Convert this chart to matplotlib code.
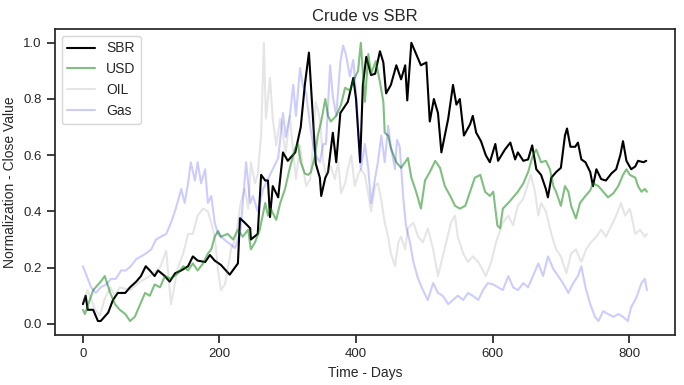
import numpy as np
import matplotlib
matplotlib.use("Agg")
import matplotlib.pyplot as plt
import seaborn as sns

# ------------------------------------------------------------
# Data (normalised close values)
# ------------------------------------------------------------

sbr_days = [0, 4, 7, 15, 22, 26, 37, 44, 51, 62, 69, 78, 85, 92, 98, 105, 110, 120, 127, 135,
            144, 154, 161, 168, 179, 186, 193, 202, 215, 227, 230, 237, 245, 246, 256, 261, 267,
            271, 274, 278, 286, 293, 300, 311, 319, 325, 331, 337, 341, 347, 349, 355, 359, 366,
            371, 377, 388, 396, 400, 406, 410, 415, 422, 428, 435, 440, 444, 451, 459, 466, 472,
            475, 481, 488, 495, 503, 508, 514, 520, 525, 530, 535, 542, 547, 552, 558, 567, 571,
            576, 583, 590, 596, 604, 608, 618, 626, 633, 637, 645, 652, 658, 664, 671, 678, 681,
            686, 693, 700, 706, 709, 714, 721, 725, 730, 736, 743, 747, 752, 759, 766, 774, 781,
            787, 791, 796, 803, 809, 813, 821, 825]
sbr_vals = [0.07, 0.10, 0.05, 0.05, 0.01, 0.01, 0.04, 0.085, 0.11, 0.11, 0.13, 0.15, 0.17, 0.205,
            0.19, 0.17, 0.19, 0.17, 0.15, 0.18, 0.19, 0.205, 0.24, 0.225, 0.22, 0.245, 0.225, 0.21,
            0.175, 0.215, 0.376, 0.36, 0.34, 0.30, 0.32, 0.53, 0.51, 0.51, 0.38, 0.49, 0.45, 0.61,
            0.58, 0.61, 0.70, 0.85, 0.965, 0.73, 0.57, 0.52, 0.455, 0.52, 0.54, 0.68, 0.575, 0.75,
            0.79, 0.875, 0.80, 0.575, 0.85, 0.95, 0.885, 0.89, 0.97, 0.93, 0.82, 0.85, 0.92, 0.87,
            0.92, 0.795, 1.0, 0.96, 0.92, 0.93, 0.72, 0.80, 0.75, 0.61, 0.67, 0.73, 0.85, 0.78,
            0.80, 0.67, 0.71, 0.74, 0.68, 0.65, 0.60, 0.575, 0.64, 0.58, 0.62, 0.645, 0.585, 0.61,
            0.58, 0.585, 0.635, 0.55, 0.53, 0.48, 0.45, 0.52, 0.54, 0.555, 0.67, 0.695, 0.63,
            0.63, 0.645, 0.585, 0.575, 0.54, 0.49, 0.55, 0.515, 0.51, 0.535, 0.55, 0.60, 0.65,
            0.58, 0.55, 0.56, 0.58, 0.575, 0.58]

usd_days = [0, 3, 15, 26, 32, 40, 47, 54, 62, 69, 76, 84, 91, 98, 105, 113, 120, 129, 139, 147,
            154, 161, 168, 176, 183, 188, 193, 198, 202, 212, 220, 227, 234, 242, 246, 252, 259,
            267, 271, 275, 283, 289, 296, 303, 311, 315, 319, 325, 330, 334, 340, 344, 349, 355,
            359, 363, 371, 378, 384, 391, 398, 403, 407, 413, 418, 422, 429, 435, 440, 442, 447,
            451, 459, 466, 476, 481, 488, 495, 501, 508, 516, 523, 530, 538, 545, 552, 560, 567,
            574, 582, 589, 596, 601, 607, 611, 615, 623, 630, 637, 645, 652, 659, 664, 671, 678,
            684, 689, 693, 700, 706, 711, 715, 722, 728, 736, 743, 747, 755, 762, 769, 777, 784,
            791, 796, 801, 809, 813, 818, 823, 826]
usd_vals = [0.05, 0.035, 0.12, 0.15, 0.17, 0.11, 0.07, 0.05, 0.035, 0.01, 0.025, 0.07, 0.11, 0.10,
            0.14, 0.13, 0.17, 0.16, 0.18, 0.205, 0.19, 0.215, 0.19, 0.215, 0.25, 0.265, 0.31, 0.33,
            0.31, 0.32, 0.30, 0.335, 0.31, 0.335, 0.265, 0.29, 0.335, 0.43, 0.385, 0.41, 0.37,
            0.43, 0.48, 0.555, 0.625, 0.64, 0.575, 0.535, 0.53, 0.54, 0.60, 0.67, 0.72, 0.80,
            0.74, 0.72, 0.74, 0.78, 0.84, 0.83, 0.875, 0.90, 1.0, 0.79, 0.96, 0.89, 0.935, 0.86,
            0.79, 0.68, 0.67, 0.625, 0.575, 0.555, 0.59, 0.52, 0.47, 0.41, 0.51, 0.54, 0.58, 0.555,
            0.49, 0.455, 0.42, 0.41, 0.42, 0.47, 0.52, 0.53, 0.47, 0.455, 0.47, 0.35, 0.34, 0.41,
            0.43, 0.45, 0.47, 0.50, 0.54, 0.60, 0.62, 0.575, 0.58, 0.55, 0.49, 0.47, 0.42, 0.49,
            0.47, 0.42, 0.375, 0.43, 0.455, 0.475, 0.50, 0.49, 0.47, 0.45, 0.465, 0.49, 0.53,
            0.55, 0.53, 0.52, 0.49, 0.47, 0.48, 0.47]

oil_days = [0, 7, 18, 25, 32, 40, 47, 54, 69, 84, 98, 113, 122, 129, 139, 147, 154, 161, 168,
            176, 183, 188, 193, 198, 202, 208, 217, 224, 231, 237, 242, 246, 252, 256, 261, 265,
            268, 274, 278, 283, 289, 293, 297, 303, 308, 312, 318, 322, 327, 333, 337, 341, 347,
            352, 356, 363, 369, 374, 378, 384, 388, 393, 398, 403, 407, 413, 418, 422, 428, 432,
            437, 442, 447, 451, 457, 462, 466, 472, 476, 484, 491, 498, 505, 513, 520, 525, 532,
            539, 545, 549, 557, 564, 571, 579, 586, 590, 598, 605, 612, 615, 623, 630, 637, 645,
            652, 656, 662, 667, 671, 678, 686, 693, 700, 708, 715, 722, 730, 737, 744, 752, 759,
            766, 774, 781, 788, 794, 801, 809, 816, 823, 826]
oil_vals = [0.08, 0.12, 0.05, 0.03, 0.09, 0.13, 0.10, 0.13, 0.12, 0.15, 0.17, 0.20, 0.26, 0.07,
            0.20, 0.25, 0.32, 0.32, 0.385, 0.41, 0.40, 0.36, 0.31, 0.19, 0.12, 0.14, 0.265, 0.31,
            0.43, 0.48, 0.41, 0.575, 0.50, 0.53, 0.67, 1.0, 0.73, 0.875, 0.73, 0.635, 0.73, 0.67,
            0.61, 0.74, 0.61, 0.515, 0.635, 0.56, 0.49, 0.515, 0.64, 0.79, 0.73, 0.575, 0.53,
            0.56, 0.515, 0.575, 0.465, 0.50, 0.55, 0.60, 0.49, 0.53, 0.55, 0.53, 0.46, 0.40, 0.49,
            0.50, 0.44, 0.36, 0.31, 0.25, 0.205, 0.29, 0.31, 0.265, 0.34, 0.36, 0.31, 0.29, 0.34,
            0.265, 0.17, 0.22, 0.29, 0.36, 0.385, 0.31, 0.25, 0.22, 0.24, 0.22, 0.19, 0.17, 0.22,
            0.29, 0.34, 0.36, 0.385, 0.35, 0.42, 0.445, 0.50, 0.53, 0.47, 0.385, 0.43, 0.40, 0.32,
            0.265, 0.24, 0.18, 0.25, 0.265, 0.22, 0.265, 0.29, 0.31, 0.335, 0.31, 0.35, 0.385,
            0.43, 0.385, 0.41, 0.32, 0.335, 0.31, 0.32]

gas_days = [0, 4, 12, 19, 26, 34, 41, 48, 56, 63, 70, 78, 85, 92, 100, 107, 114, 122, 129, 136,
            144, 149, 154, 158, 164, 168, 173, 179, 183, 188, 193, 198, 202, 212, 223, 231, 239,
            245, 249, 256, 264, 271, 278, 286, 293, 297, 303, 308, 312, 318, 322, 327, 333, 337,
            341, 347, 352, 356, 362, 366, 371, 377, 381, 385, 391, 396, 400, 403, 407, 413, 418,
            422, 428, 432, 437, 442, 447, 451, 457, 460, 464, 469, 473, 479, 484, 491, 498, 505,
            513, 520, 527, 535, 542, 549, 557, 564, 571, 579, 586, 593, 601, 608, 615, 623, 630,
            637, 645, 652, 659, 667, 674, 681, 689, 696, 703, 711, 718, 725, 730, 736, 743, 750,
            755, 762, 769, 777, 784, 791, 798, 803, 810, 818, 823, 826]
gas_vals = [0.205, 0.18, 0.13, 0.11, 0.13, 0.14, 0.16, 0.16, 0.19, 0.19, 0.205, 0.23, 0.24, 0.25,
            0.265, 0.30, 0.31, 0.32, 0.36, 0.41, 0.48, 0.43, 0.50, 0.575, 0.51, 0.575, 0.50, 0.55,
            0.43, 0.455, 0.36, 0.32, 0.31, 0.29, 0.27, 0.335, 0.575, 0.43, 0.455, 0.40, 0.48,
            0.515, 0.55, 0.59, 0.75, 0.665, 0.74, 0.85, 0.74, 0.91, 0.85, 0.82, 0.70, 0.64, 0.60,
            0.575, 0.64, 0.64, 0.92, 0.81, 0.74, 0.93, 0.99, 0.96, 0.88, 0.94, 0.82, 0.70, 0.55,
            0.64, 0.55, 0.43, 0.52, 0.575, 0.67, 0.575, 0.705, 0.63, 0.55, 0.655, 0.63, 0.455,
            0.35, 0.29, 0.22, 0.16, 0.12, 0.085, 0.145, 0.11, 0.10, 0.07, 0.085, 0.10, 0.085, 0.11,
            0.10, 0.085, 0.12, 0.145, 0.14, 0.13, 0.12, 0.17, 0.13, 0.12, 0.145, 0.13, 0.17, 0.215,
            0.17, 0.24, 0.195, 0.17, 0.145, 0.11, 0.145, 0.17, 0.205, 0.13, 0.07, 0.025, 0.01,
            0.045, 0.035, 0.025, 0.035, 0.025, 0.01, 0.06, 0.09, 0.145, 0.16, 0.12]

# ------------------------------------------------------------
# Style
# ------------------------------------------------------------

sns.set_theme(style="ticks")
plt.rcParams["font.family"] = ["Liberation Sans", "DejaVu Sans"]

fig, ax = plt.subplots(figsize=(6.84, 3.85), dpi=100)
fig.subplots_adjust(left=0.080, right=0.987, top=0.925, bottom=0.130)

ax.plot(sbr_days, sbr_vals, color="black", linewidth=1.5, label="SBR")
ax.plot(usd_days, usd_vals, color="green", alpha=0.5, linewidth=1.5, label="USD")
ax.plot(oil_days, oil_vals, color="grey", alpha=0.2, linewidth=1.5, label="OIL")
ax.plot(gas_days, gas_vals, color="blue", alpha=0.2, linewidth=1.5, label="Gas")

ax.set_title("Crude vs SBR", fontsize=12)
ax.set_xlabel("Time - Days", fontsize=10)
ax.set_ylabel("Normalization - Close Value", fontsize=10)
ax.tick_params(axis="both", labelsize=9.5)
ax.set_xticks([0, 200, 400, 600, 800])
ax.set_yticks(np.arange(0, 1.01, 0.2))

ax.legend(loc="upper left", fontsize=10)

fig.savefig("out.png", dpi=100)
plt.close(fig)
